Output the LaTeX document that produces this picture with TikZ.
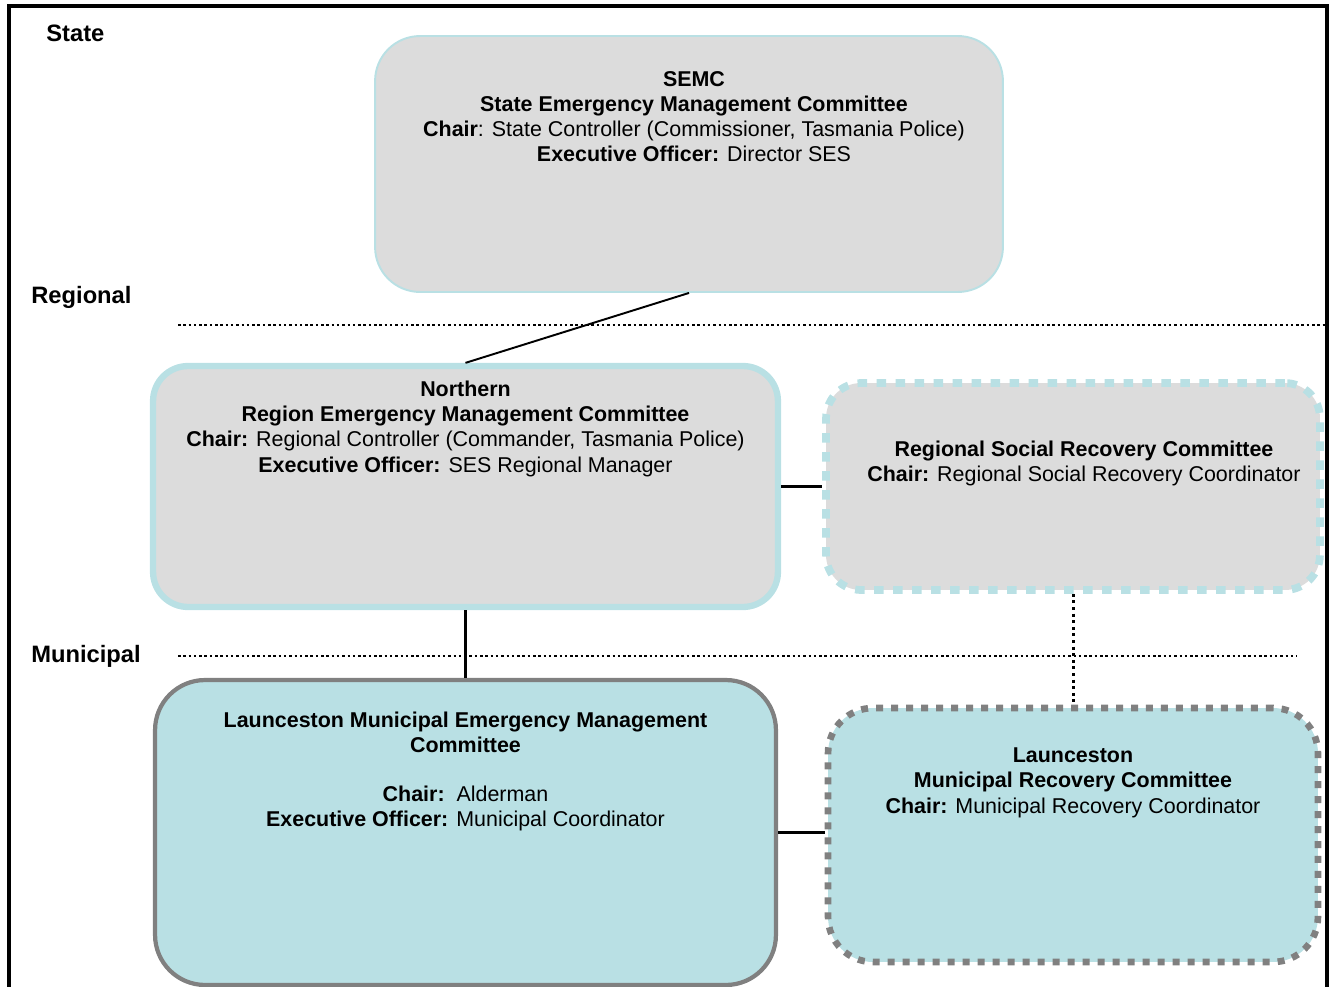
\documentclass[tikz,border=0pt]{standalone}
\usepackage{fontspec}
\setmainfont{Liberation Sans}
\usetikzlibrary{positioning}

\definecolor{boxgray}{RGB}{220,220,220}
\definecolor{paleteal}{RGB}{185,224,228}
\definecolor{edgegray}{RGB}{128,128,128}

\begin{document}
\begin{tikzpicture}[x=0.02cm, y=-0.02cm,
    % Box styles
    statebox/.style={draw=paleteal, fill=boxgray, line width=1.1pt, rounded corners=0.9cm,
        minimum width=12.56cm, minimum height=5.12cm},
    regionbox/.style={draw=paleteal, fill=boxgray, line width=3.6pt, rounded corners=0.7cm,
        minimum width=12.5cm, minimum height=4.82cm},
    socialbox/.style={draw=paleteal, fill=boxgray, line width=4.4pt, rounded corners=0.7cm,
        dash pattern=on 0.19cm off 0.19cm, minimum width=9.88cm, minimum height=4.14cm},
    muncbox/.style={draw=edgegray, fill=paleteal, line width=2.4pt, rounded corners=1cm,
        minimum width=12.42cm, minimum height=6.1cm},
    recobox/.style={draw=edgegray, fill=paleteal, line width=3.8pt, rounded corners=0.9cm,
        dash pattern=on 0.14cm off 0.16cm, minimum width=9.8cm, minimum height=5.08cm},
    % Label styles
    boxtext/.style={font=\fontsize{12.2}{14.3}\selectfont, align=center, inner sep=0pt},
    level/.style={font=\bfseries\fontsize{13.5}{16}\selectfont, anchor=west, inner sep=0pt},
    % Line styles
    frame/.style={line width=1.8pt},
    link/.style={line width=1.8pt},
    levelline/.style={line width=1.4pt, dash pattern=on 0.05cm off 0.056cm},
    recoline/.style={line width=1.7pt, dash pattern=on 0.06cm off 0.072cm},
]

\useasboundingbox (0,0) rectangle (1332,987);
\clip (0,0) rectangle (1332,987);

% Outer frame
\draw[frame] (9,995) -- (9,6) -- (1327,6) -- (1327,995);

% Level labels and separators
\node[level] (state) at (46,33) {State};
\node[level] (regional) at (31,297) {Regional};
\node[level] (municipal) at (31,656) {Municipal};

\coordinate (reg-left) at (178,325);
\coordinate (reg-right) at (1327,325);
\coordinate (mun-left) at (178,656);
\coordinate (mun-right) at (1297,656);
\draw[levelline] (reg-left) -- (reg-right);
\draw[levelline] (mun-left) -- (mun-right);

% Committee boxes
\node[statebox] (semc) at (689,164) {};
\node[regionbox] (north) at (465.5,486.5) {};
\node[socialbox] (social) at (1073,486.5) {};
\node[muncbox] (launc) at (465.5,832.5) {};
\node[recobox] (recov) at (1073,835) {};

% Box texts
\node[boxtext, below=0.72cm of semc.north, xshift=0.1cm] (semc-text)
    {\textbf{SEMC}\\\textbf{State Emergency Management Committee}\\
     \textbf{Chair}: State Controller (Commissioner, Tasmania Police)\\
     \textbf{Executive Officer:} Director SES};
\node[boxtext, below=0.36cm of north.north] (north-text)
    {\textbf{Northern}\\\textbf{Region Emergency Management Committee}\\
     \textbf{Chair:} Regional Controller (Commander, Tasmania Police)\\
     \textbf{Executive Officer:} SES Regional Manager};
\node[boxtext, below=1.22cm of social.north, xshift=0.22cm] (social-text)
    {\textbf{Regional Social Recovery Committee}\\
     \textbf{Chair:} Regional Social Recovery Coordinator};
\node[boxtext, below=0.68cm of launc.north] (launc-text)
    {\textbf{Launceston Municipal Emergency Management}\\\textbf{Committee}\\[13.2pt]
     \textbf{Chair:}\ \ Alderman\\
     \textbf{Executive Officer:} Municipal Coordinator};
\node[boxtext, below=0.86cm of recov.north] (recov-text)
    {\textbf{Launceston}\\\textbf{Municipal Recovery Committee}\\
     \textbf{Chair:} Municipal Recovery Coordinator};

% Connectors
\draw[line width=1.1pt] (semc.south) -- (north.north);
\draw[link] (north.south) -- (launc.north);
\draw[link] (north.east) -- (social.west);
\draw[recoline] (social.south) -- (recov.north);
\draw[link] (launc.east) -- (launc.east -| recov.west);

\end{tikzpicture}
\end{document}
